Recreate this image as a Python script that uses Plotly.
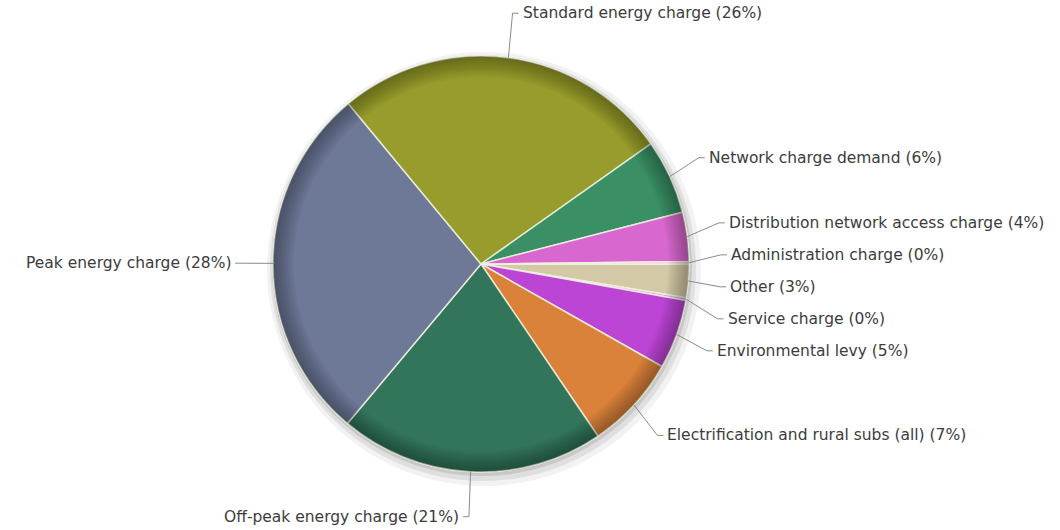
import math
import plotly.graph_objects as go

# ---- data (clockwise from 3 o'clock) ----
categories = [
    "Other",
    "Service charge",
    "Environmental levy",
    "Electrification and rural subs (all)",
    "Off-peak energy charge",
    "Peak energy charge",
    "Standard energy charge",
    "Network charge demand",
    "Distribution network access charge",
    "Administration charge",
]
shares = [2.6, 0.2, 5.4, 7.3, 20.6, 27.9, 26.2, 5.8, 3.8, 0.2]
colors = ["#d3c9a6", "#e3a6dc", "#bd45d5", "#da823a", "#33755a",
          "#6e7897", "#979c2c", "#3a9064", "#d868cf", "#f2c0ea"]

# ---- layout geometry (pixels) ----
W, H = 1060, 530
CX, CY, R = 481, 264, 208
DX, DY = 32, 45   # label distance beyond rim (horizontal / vertical)
GAP = 32          # min vertical gap between labels on one side
FONT = dict(family="DejaVu Sans", size=15.5, color="#3c3c3c")
LEADER = "#8a8a8a"


def px(x):
    return x / W


def py(y):
    return 1 - y / H


domain = dict(x=[px(CX - R), px(CX + R)], y=[py(CY + R), py(CY - R)])

fig = go.Figure()

fig.add_trace(go.Pie(
    labels=categories, values=shares, sort=False, direction="clockwise",
    rotation=90, domain=domain, textinfo="none", hoverinfo="label+percent",
    marker=dict(colors=colors, line=dict(color="rgba(240,245,225,0.85)", width=1.5)),
    showlegend=False,
))

# rim shading (smooth darkening toward the edge)
for k in range(10):
    fig.add_trace(go.Pie(
        values=[1], labels=[""], hole=0.90 + 0.0095 * k, domain=domain, sort=False,
        textinfo="none", hoverinfo="skip", showlegend=False,
        marker=dict(colors=["rgba(0,0,0,0.03)"], line=dict(width=0)),
    ))

shapes = []
# soft drop shadow under pie
for grow, dx, dy, a in [(9, 3, 5, 0.05), (5, 2, 4, 0.08), (2, 1, 2, 0.10)]:
    shapes.append(dict(type="circle", xref="paper", yref="paper", layer="below",
                       x0=px(CX - R - grow + dx), x1=px(CX + R + grow + dx),
                       y0=py(CY + R + grow + dy), y1=py(CY - R - grow + dy),
                       fillcolor=f"rgba(0,0,0,{a})", line=dict(width=0)))

# ---- label placement computed from slice angles ----
total = sum(shares)
items = []
cum = 0.0
for name, v in zip(categories, shares):
    mid = (cum + v / 2) / total * 2 * math.pi
    cum += v
    c, s = math.cos(mid), math.sin(mid)
    ex, ey = CX + R * c, CY + R * s
    lx, ly = CX + (R + DX) * c, CY + (R + DY) * s
    items.append(dict(name=name, pct=round(v / total * 100), ex=ex, ey=ey,
                      lx=lx, ly=ly, side=1 if c >= 0 else -1))

for side in (1, -1):
    group = sorted([it for it in items if it["side"] == side], key=lambda t: t["ly"])
    for _ in range(500):
        moved = False
        for a, b in zip(group, group[1:]):
            d = b["ly"] - a["ly"]
            if d < GAP - 0.01:
                push = (GAP - d) / 2
                a["ly"] -= push
                b["ly"] += push
                moved = True
        if not moved:
            break

annotations = []
for it in items:
    sd = it["side"]
    tx = it["lx"] + sd * 6
    shapes.append(dict(type="line", xref="paper", yref="paper",
                       x0=px(it["ex"]), y0=py(it["ey"]), x1=px(it["lx"]), y1=py(it["ly"]),
                       line=dict(color=LEADER, width=1)))
    shapes.append(dict(type="line", xref="paper", yref="paper",
                       x0=px(it["lx"]), y0=py(it["ly"]), x1=px(tx), y1=py(it["ly"]),
                       line=dict(color=LEADER, width=1)))
    annotations.append(dict(
        x=px(tx + sd * 2), y=py(it["ly"]), xref="paper", yref="paper",
        text=f"{it['name']} ({it['pct']}%)", showarrow=False,
        xanchor="left" if sd > 0 else "right", yanchor="middle", font=FONT,
    ))

fig.update_layout(
    width=W, height=H, margin=dict(l=0, r=0, t=0, b=0),
    paper_bgcolor="white", plot_bgcolor="white",
    shapes=shapes, annotations=annotations, showlegend=False,
)

fig.write_html("out.html")
